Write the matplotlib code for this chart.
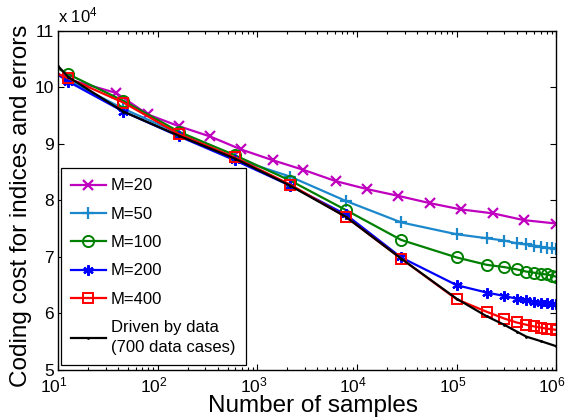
import matplotlib
matplotlib.use("Agg")
import matplotlib.pyplot as plt
from matplotlib.ticker import LogLocator, FixedLocator, NullFormatter
from matplotlib.transforms import ScaledTranslation

plt.rcParams['font.family'] = ['Liberation Sans', 'DejaVu Sans']
plt.rcParams['mathtext.fontset'] = 'custom'
plt.rcParams['mathtext.rm'] = 'Liberation Sans'
plt.rcParams['mathtext.it'] = 'Liberation Sans'
plt.rcParams['mathtext.default'] = 'regular'

# number of samples
n_common = [10, 12.6, 45, 164, 590, 2130, 7690, 27700,
            1e5, 2e5, 3e5, 4e5, 5e5, 6e5, 7e5, 8e5, 9e5, 1e6]
n_m20 = [10, 12.6, 38, 79, 163, 334, 684, 1420, 2880, 6100, 12500,
         25800, 53900, 110000, 231000, 473000, 1e6]
n_data = [10, 12.6, 45, 164, 590, 2130, 7690, 27700,
          1e5, 2e5, 3e5, 4e5, 5e5, 7e5, 1e6]

# coding cost (x 10^4)
cost_m20 = [10.24, 10.14, 9.90, 9.52, 9.31, 9.13, 8.90, 8.71, 8.54, 8.34,
            8.20, 8.08, 7.95, 7.84, 7.77, 7.65, 7.59]
cost_m50 = [10.22, 10.12, 9.62, 9.18, 8.74, 8.42, 7.99, 7.61,
            7.40, 7.33, 7.29, 7.24, 7.22, 7.20, 7.18, 7.16, 7.15, 7.14]
cost_m100 = [10.33, 10.23, 9.76, 9.21, 8.80, 8.35, 7.83, 7.30,
             6.99, 6.86, 6.82, 6.78, 6.74, 6.72, 6.70, 6.69, 6.67, 6.65]
cost_m200 = [10.22, 10.10, 9.57, 9.13, 8.71, 8.26, 7.75, 6.99,
             6.50, 6.37, 6.31, 6.26, 6.23, 6.21, 6.19, 6.18, 6.17, 6.16]
cost_m400 = [10.23, 10.16, 9.73, 9.17, 8.76, 8.28, 7.71, 6.97,
             6.25, 6.03, 5.91, 5.84, 5.80, 5.77, 5.75, 5.73, 5.72, 5.71]
cost_data = [10.37, 10.18, 9.57, 9.14, 8.74, 8.26, 7.71, 6.97,
             6.26, 5.95, 5.80, 5.68, 5.59, 5.51, 5.42]

labels = ['M=20', 'M=50', 'M=100', 'M=200', 'M=400',
          'Driven by data\n(700 data cases)']
colors = ['#BF00BF', '#1C88CC', '#008000', '#0000FF', '#FF0000', '#000000']

W, H = 567, 418
fig = plt.figure(figsize=(W / 100, H / 100), dpi=100)
ax = fig.add_axes([58.3 / W, 1 - 370 / H, 498 / W, 339.3 / H])

lw = 1.6
ax.plot(n_m20, cost_m20, color=colors[0], lw=lw, marker='x', ms=7, mew=1.6,
        markevery=list(range(1, len(n_m20))), label=labels[0])
ax.plot(n_common, cost_m50, color=colors[1], lw=lw, marker='+', ms=9, mew=1.6,
        markevery=list(range(1, len(n_common))), label=labels[1])
ax.plot(n_common, cost_m100, color=colors[2], lw=lw, marker='o', ms=8, mew=1.4,
        mfc='none', markevery=list(range(1, len(n_common))), label=labels[2])
ax.plot(n_common, cost_m200, color=colors[3], lw=lw, marker=(6, 2, 0), ms=7.5, mew=1.6,
        markevery=list(range(1, len(n_common))), label=labels[3])
ax.plot(n_common, cost_m400, color=colors[4], lw=lw, marker='s', ms=7.5, mew=1.4,
        mfc='none', markevery=list(range(1, len(n_common))), label=labels[4])
ax.plot(n_data, cost_data, color=colors[5], lw=lw, marker='.', ms=2,
        label=labels[5])

ax.set_xscale('log')
ax.set_xlim(10, 1e6)
ax.set_ylim(5, 11)
ax.yaxis.set_major_locator(FixedLocator([5, 6, 7, 8, 9, 10, 11]))
ax.xaxis.set_major_locator(LogLocator(base=10, numticks=10))
ax.xaxis.set_minor_locator(LogLocator(base=10, subs=range(2, 10), numticks=20))
ax.xaxis.set_minor_formatter(NullFormatter())

ax.tick_params(which='both', direction='in', top=True, right=True,
               labelsize=12.5, width=0.8, colors='black')
ax.tick_params(which='major', length=4.5)
ax.tick_params(which='minor', length=2.5)
ax.tick_params(axis='x', pad=4)
ax.tick_params(axis='y', pad=3)
for s in ax.spines.values():
    s.set_linewidth(1.0)

fig.canvas.draw()
shift = ScaledTranslation(-4 / 100, 0, fig.dpi_scale_trans)
for lab in ax.get_xticklabels():
    lab.set_transform(lab.get_transform() + shift)

fig.text(312.5 / W, 1 - 412 / H, 'Number of samples', fontsize=17.5,
         ha='center', va='baseline')
fig.text(21 / W, 1 - 206 / H, 'Coding cost for indices and errors',
         fontsize=17.5, rotation=90, ha='center', va='center')
ax.text(0.0, 1.015, r'x $10^{4}$', transform=ax.transAxes, fontsize=12,
        ha='left', va='bottom')

leg = ax.legend(loc='upper left', bbox_to_anchor=(0.005, 0.594, 0.371, 0.0),
                mode='expand', fontsize=12, frameon=True, fancybox=False,
                edgecolor='black', framealpha=1, borderpad=0.6,
                labelspacing=0.8, handlelength=2.1, handletextpad=0.3,
                borderaxespad=0.0)
leg.get_frame().set_linewidth(0.9)
leg.get_texts()[5].set_linespacing(1.4)

fig.savefig('out.png', dpi=100)
